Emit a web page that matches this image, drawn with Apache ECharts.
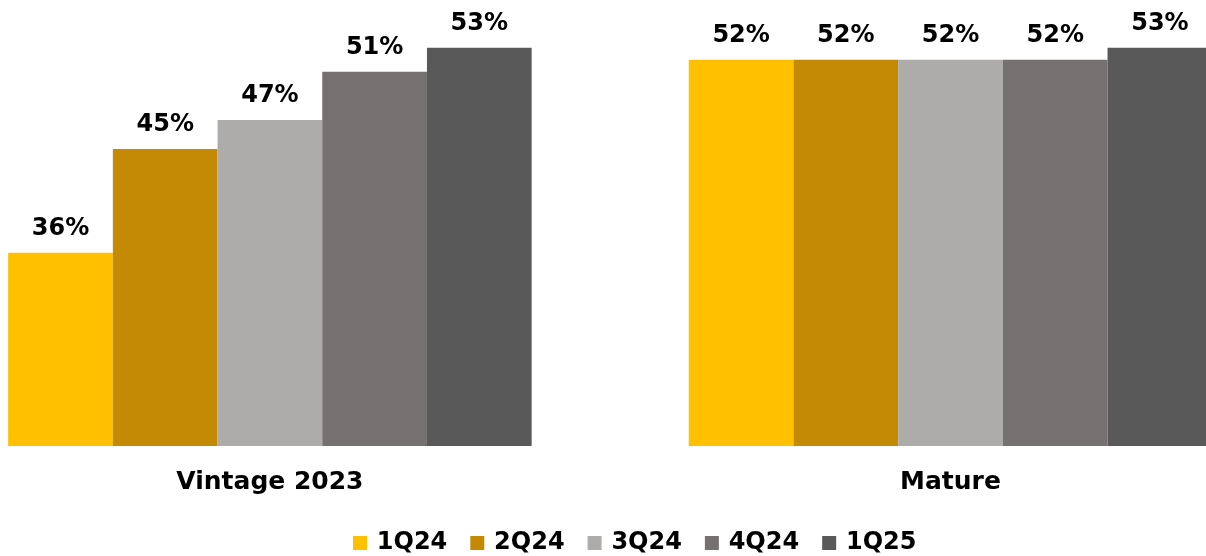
<!DOCTYPE html>
<html>
<head>
<meta charset="utf-8">
<script src="https://cdn.jsdelivr.net/npm/echarts@6/dist/echarts.min.js"></script>
<style>
    html, body { margin: 0; padding: 0; background: #ffffff; }
    #chart { width: 1206px; height: 556px; }
</style>
</head>
<body>
<div id="chart"></div>
<script>
    'use strict';

    var categories = [ 'Vintage 2023', 'Mature' ];
    var seriesNames = [ '1Q24', '2Q24', '3Q24', '4Q24', '1Q25' ];
    var q1_24 = [ 36, 52 ];
    var q2_24 = [ 44.6, 52 ];
    var q3_24 = [ 47, 52 ];
    var q4_24 = [ 51, 52 ];
    var q1_25 = [ 53, 53 ];
    var colors = [ '#FFC000', '#C58A05', '#AEABAB', '#767171', '#595959' ];

    var seriesData = [ q1_24, q2_24, q3_24, q4_24, q1_25 ];
    var font = 'DejaVu Sans';

    var series = seriesNames.map(function (name, i) {
        return {
            name : name,
            type : 'bar',
            barWidth : 104.7,
            barGap : '0%',
            itemStyle : { color : colors[i] },
            label : {
                show : true,
                position : 'top',
                distance : 12,
                fontFamily : font,
                fontWeight : 'bold',
                fontSize : 24,
                color : '#000000',
                formatter : function (p) {
                    return Math.round(p.value) + '%';
                }
            },
            data : seriesData[i]
        };
    });

    var option = {
        animation : false,
        backgroundColor : '#ffffff',
        grid : {
            left : -70.4,
            width : 1361.2,
            top : 23.5,
            bottom : 110,
            outerBoundsMode : 'none',
            containLabel : false
        },
        legend : {
            data : seriesNames,
            left : 353,
            top : 531,
            padding : 0,
            icon : 'rect',
            itemWidth : 14,
            itemHeight : 14,
            itemGap : 23,
            // thin space widens the gap between swatch and name
            formatter : function (name) {
                return '\u2009' + name;
            },
            textStyle : {
                fontFamily : font,
                fontWeight : 'bold',
                fontSize : 24,
                color : '#000000'
            }
        },
        xAxis : {
            type : 'category',
            data : categories,
            axisLine : { show : false },
            axisTick : { show : false },
            axisLabel : {
                margin : 24,
                fontFamily : font,
                fontWeight : 'bold',
                fontSize : 25,
                color : '#000000'
            }
        },
        yAxis : {
            type : 'value',
            min : 20,
            max : 55,
            show : false,
            splitLine : { show : false }
        },
        series : series
    };

    var chart = echarts.init(document.getElementById('chart'), null, { renderer : 'canvas' });
    chart.setOption(option);
</script>
</body>
</html>
